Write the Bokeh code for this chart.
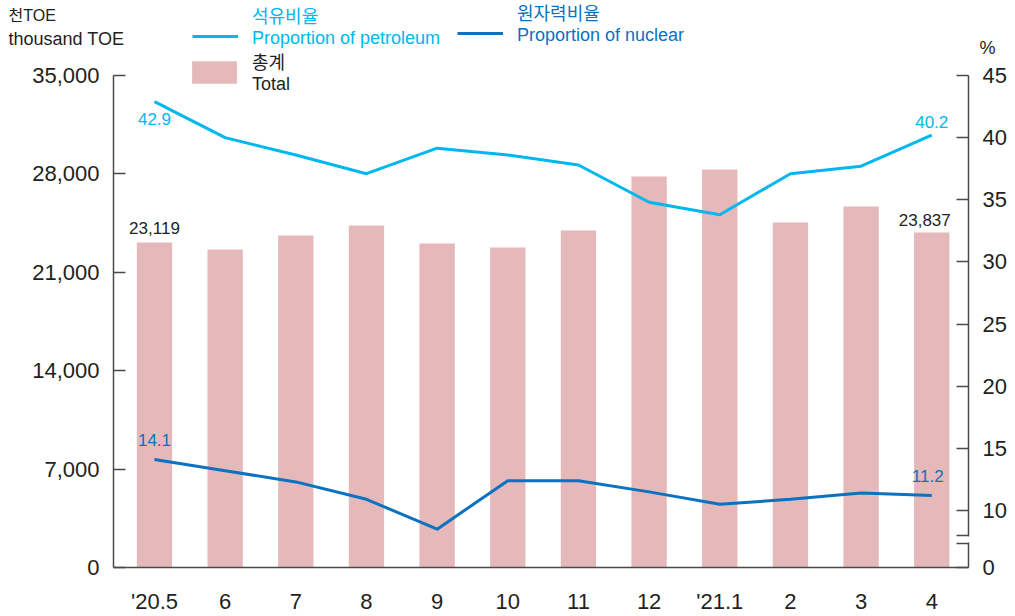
from bokeh.plotting import figure
from bokeh.models import (Range1d, LinearAxis, FixedTicker, NumeralTickFormatter,
                          Label, Legend, LegendItem, ColumnDataSource)
from bokeh.embed import file_html
from bokeh.resources import INLINE

# ---------------- data ----------------
months = ["'20.5", "6", "7", "8", "9", "10", "11", "12", "'21.1", "2", "3", "4"]
total = [23119, 22620, 23620, 24330, 23050, 22760, 23975, 27815, 28313, 24543, 25681, 23837]
petroleum = [42.9, 40.0, 38.6, 37.1, 39.15, 38.6, 37.8, 34.8, 33.8, 37.1, 37.7, 40.2]
nuclear = [14.1, 13.2, 12.3, 10.9, 8.5, 12.4, 12.4, 11.5, 10.5, 10.9, 11.4, 11.2]
left_ticks = [0, 7000, 14000, 21000, 28000, 35000]
right_ticks = [10, 15, 20, 25, 30, 35, 40, 45]

# ---------------- style ----------------
FONT = "'Liberation Sans', 'Noto Sans CJK KR', sans-serif"
TXT = "#231f20"
AX = "#4a4a4a"
BAR = "#e5b8b9"
PET = "#00b7ee"
NUC = "#0a72c0"

W, H = 1015, 616
# plot-area geometry in canvas px (axes are placed at these positions)
FL, FR, FT, FB = 113, 968, 75, 567
XS, XE = -0.58, 11.52
YMAX = 35000
PXC = (FR - FL) / (XE - XS)
PCT_PX = (510 - 75) / 35.0          # px per percent unit (10 at 510px, 45 at 75px)
PCT_START = 10 - (FB - 510) / PCT_PX
L_PX = (FB - FT) / YMAX


def dx(px):
    return XS + (px - FL) / PXC


def dy(py):
    return (FB - py) / L_PX


x = list(range(len(months)))
src = ColumnDataSource(dict(x=x, total=total, pet=petroleum, nuc=nuclear))

p = figure(width=W, height=H, x_range=Range1d(dx(0), dx(W)), y_range=Range1d(dy(H), dy(0)),
           output_backend="svg", toolbar_location=None,
           min_border_left=0, min_border_right=0, min_border_top=0, min_border_bottom=0)
p.outline_line_color = None
p.xgrid.grid_line_color = None
p.ygrid.grid_line_color = None
p.background_fill_color = "white"
p.extra_y_ranges = {"pct": Range1d(PCT_START - (H - FB) / PCT_PX, PCT_START + FB / PCT_PX)}

r_bar = p.vbar(x="x", top="total", width=0.5, source=src, fill_color=BAR, line_color=None)
r_pet = p.line(x="x", y="pet", source=src, y_range_name="pct", line_color=PET, line_width=3)
r_nuc = p.line(x="x", y="nuc", source=src, y_range_name="pct", line_color=NUC, line_width=3)

# x axis
xa = p.xaxis[0]
xa.fixed_location = 0
xa.bounds = (XS, XE)
xa.ticker = FixedTicker(ticks=x)
xa.major_label_overrides = {i: m for i, m in zip(x, months)}
xa.major_tick_line_color = None
xa.minor_tick_line_color = None
xa.axis_line_color = AX
xa.axis_line_width = 1.5
xa.major_label_text_font = FONT
xa.major_label_text_font_size = "22px"
xa.major_label_text_color = TXT
xa.major_label_standoff = 15

# left axis
ya = p.yaxis[0]
ya.fixed_location = XS
ya.bounds = (0, YMAX)
ya.ticker = FixedTicker(ticks=left_ticks)
ya.formatter = NumeralTickFormatter(format="0,0")
ya.major_tick_in = 12
ya.major_tick_out = 0
ya.minor_tick_line_color = None
ya.axis_line_color = AX
ya.axis_line_width = 1.5
ya.major_tick_line_color = AX
ya.major_tick_line_width = 1.5
ya.major_label_text_font = FONT
ya.major_label_text_font_size = "22px"
ya.major_label_text_color = TXT
ya.major_label_standoff = 14

# right axis (with break between 0 and 10)
B1, B2 = 7.35, 7.99
ra = LinearAxis(y_range_name="pct", fixed_location=XE)
ra.bounds = (PCT_START, 45)
ra.ticker = FixedTicker(ticks=[PCT_START, B1, B2] + right_ticks)
ra.major_label_overrides = {PCT_START: "0", B1: "", B2: ""}
ra.major_tick_in = 12
ra.major_tick_out = 0
ra.minor_tick_line_color = None
ra.axis_line_color = AX
ra.axis_line_width = 1.5
ra.major_tick_line_color = AX
ra.major_tick_line_width = 1.5
ra.major_label_text_font = FONT
ra.major_label_text_font_size = "22px"
ra.major_label_text_color = TXT
ra.major_label_standoff = 14
p.add_layout(ra, "right")

# mask for the axis break
p.add_layout(Label(x=XE, y=(B1 + B2) / 2, y_range_name="pct", text="\u00a0\u00a0",
                   text_font_size="5px", text_align="center", text_baseline="middle",
                   background_fill_color="white", background_fill_alpha=1.0))


# legends (location = bottom-left of legend box, px from canvas bottom-left)
def add_legend(label, r, color, left, bottom, gw, gh, standoff):
    lg = Legend(items=[LegendItem(label=label, renderers=[r])], location=(left, H - bottom),
                border_line_color=None, background_fill_alpha=0, padding=0, margin=0,
                spacing=0, glyph_width=gw, glyph_height=gh, label_standoff=standoff,
                label_text_font=FONT, label_text_font_size="18px", label_text_color=color,
                label_text_line_height=1.05)
    p.add_layout(lg, "center")


ZW = "\u200b"  # invisible spacer line: lowers the legend sample to the second text line
add_legend("석유비율\nProportion of petroleum\n" + ZW, r_pet, PET, 192, 70, 46, 20, 14)
add_legend("원자력비율\nProportion of nuclear\n" + ZW, r_nuc, NUC, 457, 67, 46, 20, 14)
add_legend("총계\nTotal", r_bar, TXT, 186, 95, 56, 28, 10)


def lab(text, px, py, size, color=TXT, align="left", baseline="top"):
    p.add_layout(Label(x=dx(px), y=dy(py), text=text, text_font=FONT, text_font_size=size,
                       text_color=color, text_align=align, text_baseline=baseline))


lab("천TOE", 8, 6, "16px")
lab("thousand TOE", 8, 28, "18px")
lab("%", 979, 37, "18px")

# value labels (anchored to data points)
def vlab(xv, yv, text, color, rng=None):
    kw = dict(y_range_name=rng) if rng else {}
    p.add_layout(Label(x=xv, y=yv, text=text, text_font=FONT, text_font_size="17px",
                       text_color=color, text_align="center", text_baseline="middle", **kw))


vlab(x[0], total[0] + 15 / L_PX, f"{total[0]:,}", TXT)
vlab(x[-1] - 7 / PXC, total[-1] + 12 / L_PX, f"{total[-1]:,}", TXT)
vlab(x[0], petroleum[0] - 17 / PCT_PX, f"{petroleum[0]}", PET, "pct")
vlab(x[-1], petroleum[-1] + 13.5 / PCT_PX, f"{petroleum[-1]}", PET, "pct")
vlab(x[0], nuclear[0] + 19.5 / PCT_PX, f"{nuclear[0]}", NUC, "pct")
vlab(x[-1] - 4 / PXC, nuclear[-1] + 20 / PCT_PX, f"{nuclear[-1]}", NUC, "pct")

open("out.html", "w").write(file_html(p, INLINE))
